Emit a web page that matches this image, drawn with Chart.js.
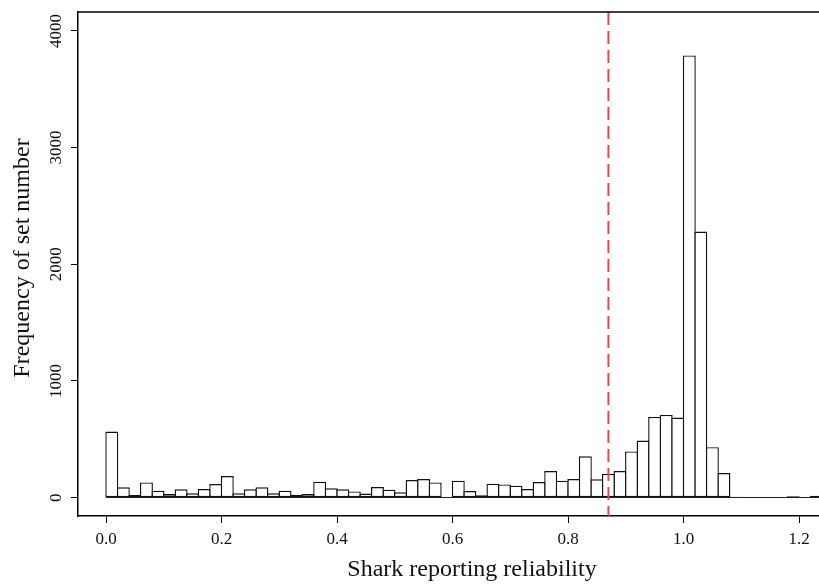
<!DOCTYPE html>
<html>
<head>
<meta charset="utf-8">
<script src="https://cdn.jsdelivr.net/npm/chart.js@4/dist/chart.umd.min.js"></script>
<style>
  html, body { margin: 0; padding: 0; background: #fff; }
  canvas { display: block; }
</style>
</head>
<body>
<canvas id="histChart" width="819" height="584"></canvas>
<script>
// histogram bins (left edges), width 0.02
const binLefts = [
  0.00, 0.02, 0.04, 0.06, 0.08, 0.10, 0.12, 0.14, 0.16, 0.18,
  0.20, 0.22, 0.24, 0.26, 0.28, 0.30, 0.32, 0.34, 0.36, 0.38,
  0.40, 0.42, 0.44, 0.46, 0.48, 0.50, 0.52, 0.54, 0.56, 0.58,
  0.60, 0.62, 0.64, 0.66, 0.68, 0.70, 0.72, 0.74, 0.76, 0.78,
  0.80, 0.82, 0.84, 0.86, 0.88, 0.90, 0.92, 0.94, 0.96, 0.98,
  1.00, 1.02, 1.04, 1.06, 1.08, 1.10, 1.12, 1.14, 1.16, 1.18,
  1.20, 1.22
];
const binWidth = 0.02;

const counts = [
  567, 89, 23, 131, 60, 31, 72, 37, 74, 117,
  185, 37, 72, 89, 37, 60, 26, 31, 137, 80,
  72, 54, 35, 91, 69, 46, 151, 160, 131, 0,
  146, 57, 20, 120, 114, 103, 74, 134, 228, 146,
  160, 354, 157, 205, 228, 396, 490, 692, 709, 687,
  3790, 2280, 433, 211, 9, 5, 0, 4, 0, 12,
  0, 17
];

const xTicks = [0.0, 0.2, 0.4, 0.6, 0.8, 1.0, 1.2];
const yTicks = [0, 1000, 2000, 3000, 4000];
const cutoff = 0.87;

const xTitle = 'Shark reporting reliability';
const yTitle = 'Frequency of set number';

Chart.defaults.font.family = '"Liberation Serif", "Times New Roman", serif';
Chart.defaults.color = '#111';

const extras = {
  id: 'extras',
  afterDatasetsDraw(chart) {
    const ctx = chart.ctx;
    const area = chart.chartArea;
    const xs = chart.scales.x;
    const ys = chart.scales.y;

    ctx.save();
    // baseline under the bars (R draws empty bins as flat lines)
    ctx.strokeStyle = '#222';
    ctx.lineWidth = 1.2;
    const y0 = Math.round(ys.getPixelForValue(0)) - 0.5;
    ctx.beginPath();
    ctx.moveTo(xs.getPixelForValue(binLefts[0]), y0);
    ctx.lineTo(Math.min(area.right, xs.getPixelForValue(binLefts[binLefts.length - 1] + binWidth)), y0);
    ctx.stroke();

    // dashed cutoff line
    const xc = xs.getPixelForValue(cutoff);
    ctx.strokeStyle = 'rgb(221, 75, 80)';
    ctx.lineWidth = 2;
    ctx.setLineDash([13, 6]);
    ctx.beginPath();
    ctx.moveTo(xc, area.top);
    ctx.lineTo(xc, area.bottom);
    ctx.stroke();
    ctx.setLineDash([]);

    // top of the box
    ctx.strokeStyle = '#000';
    ctx.lineWidth = 1.5;
    ctx.beginPath();
    ctx.moveTo(area.left, area.top);
    ctx.lineTo(area.right, area.top);
    ctx.stroke();
    ctx.restore();
  },
  afterDraw(chart) {
    const ctx = chart.ctx;
    ctx.save();
    ctx.fillStyle = '#111';
    ctx.font = '24px "Liberation Serif", serif';
    ctx.textAlign = 'center';
    ctx.textBaseline = 'alphabetic';
    ctx.fillText(xTitle, 472, 576);

    ctx.translate(29, 258);
    ctx.rotate(-Math.PI / 2);
    ctx.fillText(yTitle, 0, 0);
    ctx.restore();
  }
};

new Chart(document.getElementById('histChart'), {
  type: 'bar',
  data: {
    datasets: [{
      data: counts.map((c, i) => ({ x: binLefts[i] + binWidth / 2, y: c })),
      backgroundColor: '#fff',
      borderColor: '#111',
      borderWidth: 1.4,
      borderSkipped: false,
      barPercentage: 1.12,
      categoryPercentage: 1
    }]
  },
  options: {
    responsive: false,
    animation: false,
    devicePixelRatio: 1,
    layout: { padding: { top: 12, right: 0, left: 0, bottom: 0 } },
    plugins: {
      legend: { display: false },
      tooltip: { enabled: false }
    },
    scales: {
      x: {
        type: 'linear',
        offset: false,
        min: -0.0485,
        max: 1.2346,
        afterBuildTicks: s => { s.ticks = xTicks.map(v => ({ value: v })); },
        afterFit: s => { s.height = 68; },
        grid: { offset: false, drawOnChartArea: false, drawTicks: true, tickLength: 7, color: '#000', lineWidth: 1 },
        border: { display: true, color: '#000', width: 1.5 },
        ticks: {
          font: { size: 17 },
          padding: 6,
          maxRotation: 0,
          autoSkip: false,
          callback: v => v.toFixed(1)
        }
      },
      y: {
        min: -157,
        max: 4162,
        afterBuildTicks: s => { s.ticks = yTicks.map(v => ({ value: v })); },
        afterFit: s => { s.width = 78; },
        grid: { drawOnChartArea: false, drawTicks: true, tickLength: 7, color: '#000', lineWidth: 1 },
        border: { display: true, color: '#000', width: 1.5 },
        ticks: {
          font: { size: 17 },
          minRotation: 90,
          maxRotation: 90,
          crossAlign: 'center',
          padding: -3,
          autoSkip: false,
          callback: v => String(v)
        }
      }
    }
  },
  plugins: [extras]
});
</script>
</body>
</html>
